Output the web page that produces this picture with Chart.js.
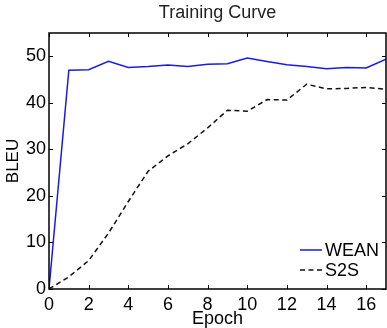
<!DOCTYPE html>
<html>
<head>
<meta charset="utf-8">
<script src="https://cdn.jsdelivr.net/npm/chart.js@4/dist/chart.umd.min.js"></script>
<style>
  html, body { margin: 0; padding: 0; background: #fff; }
  #wrap { width: 387px; height: 328px; }
</style>
</head>
<body>
<div id="wrap"><canvas id="trainChart"></canvas></div>
<script>
// values
const epochs   = [0, 1, 2, 3, 4, 5, 6, 7, 8, 9, 10, 11, 12, 13, 14, 15, 16, 17];
const weanBleu = [0, 47.0, 47.1, 48.9, 47.6, 47.8, 48.1, 47.8, 48.3, 48.4, 49.6, 48.9, 48.2, 47.8, 47.3, 47.6, 47.5, 49.4];
const s2sBleu  = [0, 2.6, 6.1, 12.0, 18.8, 25.3, 28.6, 31.2, 34.6, 38.4, 38.2, 40.7, 40.6, 44.0, 43.0, 43.1, 43.3, 42.9];
const seriesNames = ['WEAN', 'S2S'];
const xTicks = [0, 2, 4, 6, 8, 10, 12, 14, 16];
const yTicks = [0, 10, 20, 30, 40, 50];
const chartTitle = 'Training Curve';

const FONT = 'Liberation Sans, Arial, Helvetica, sans-serif';

// title over the plot, box around it, inward ticks on all four sides, legend in the corner
const matlabFrame = {
  id: 'matlabFrame',
  afterDatasetsDraw(chart) {
    const { ctx, chartArea: a, scales } = chart;
    const tl = 4;
    ctx.save();

    ctx.font = '18px ' + FONT;
    ctx.fillStyle = '#222';
    ctx.textAlign = 'center';
    ctx.textBaseline = 'middle';
    ctx.fillText(chartTitle, (a.left + a.right) / 2, 13);

    ctx.strokeStyle = '#000';
    ctx.lineWidth = 1;
    ctx.beginPath();
    xTicks.forEach(v => {
      const px = Math.round(scales.x.getPixelForValue(v)) + 0.5;
      ctx.moveTo(px, a.bottom); ctx.lineTo(px, a.bottom - tl);
      ctx.moveTo(px, a.top); ctx.lineTo(px, a.top + tl);
    });
    yTicks.forEach(v => {
      const py = Math.round(scales.y.getPixelForValue(v)) + 0.5;
      ctx.moveTo(a.left, py); ctx.lineTo(a.left + tl, py);
      ctx.moveTo(a.right, py); ctx.lineTo(a.right - tl, py);
    });
    ctx.stroke();
    ctx.lineWidth = 1.5;
    ctx.strokeRect(a.left, a.top, a.right - a.left, a.bottom - a.top);

    // legend
    ctx.textAlign = 'left';
    ctx.fillStyle = '#000';
    chart.data.datasets.forEach((ds, i) => {
      const y = a.bottom - 39 + i * 20;
      const x0 = a.right - 86;
      ctx.beginPath();
      ctx.strokeStyle = ds.borderColor;
      ctx.lineWidth = 1.5;
      ctx.setLineDash(ds.borderDash || []);
      ctx.moveTo(x0, y); ctx.lineTo(x0 + 22, y);
      ctx.stroke();
      ctx.setLineDash([]);
      ctx.fillText(ds.label, x0 + 25, y + 1);
    });
    ctx.restore();
  }
};

new Chart(document.getElementById('trainChart'), {
  type: 'line',
  data: {
    datasets: [
      {
        label: seriesNames[0],
        data: epochs.map((e, i) => ({ x: e, y: weanBleu[i] })),
        borderColor: '#1a1ae6',
        borderWidth: 1.5,
        pointRadius: 0,
        tension: 0
      },
      {
        label: seriesNames[1],
        data: epochs.map((e, i) => ({ x: e, y: s2sBleu[i] })),
        borderColor: '#111',
        borderWidth: 1.5,
        borderDash: [5, 3.5],
        pointRadius: 0,
        tension: 0
      }
    ]
  },
  options: {
    responsive: true,
    maintainAspectRatio: false,
    animation: false,
    layout: { padding: { left: 0, right: 1, top: 33, bottom: 0 } },
    plugins: {
      legend: { display: false },
      tooltip: { enabled: false },
      title: { display: false }
    },
    scales: {
      x: {
        type: 'linear',
        min: 0,
        max: 17,
        grid: { display: false, drawTicks: false },
        border: { display: false },
        afterBuildTicks: s => { s.ticks = xTicks.map(v => ({ value: v })); },
        afterFit: s => { s.height = 39; },
        ticks: {
          color: '#000',
          padding: 5,
          maxRotation: 0,
          font: { family: FONT, size: 18 }
        },
        title: {
          display: true,
          text: 'Epoch',
          color: '#000',
          padding: { top: 0, bottom: -1.5 },
          font: { family: FONT, size: 18 }
        }
      },
      y: {
        min: 0,
        max: 55,
        grid: { display: false, drawTicks: false },
        border: { display: false },
        afterBuildTicks: s => { s.ticks = yTicks.map(v => ({ value: v })); },
        afterFit: s => { s.width = 49; },
        ticks: {
          color: '#000',
          padding: 3,
          font: { family: FONT, size: 18 }
        },
        title: {
          display: true,
          text: 'BLEU',
          color: '#000',
          padding: { top: 3, bottom: 0 },
          font: { family: FONT, size: 17 }
        }
      }
    }
  },
  plugins: [matlabFrame]
});
</script>
</body>
</html>
